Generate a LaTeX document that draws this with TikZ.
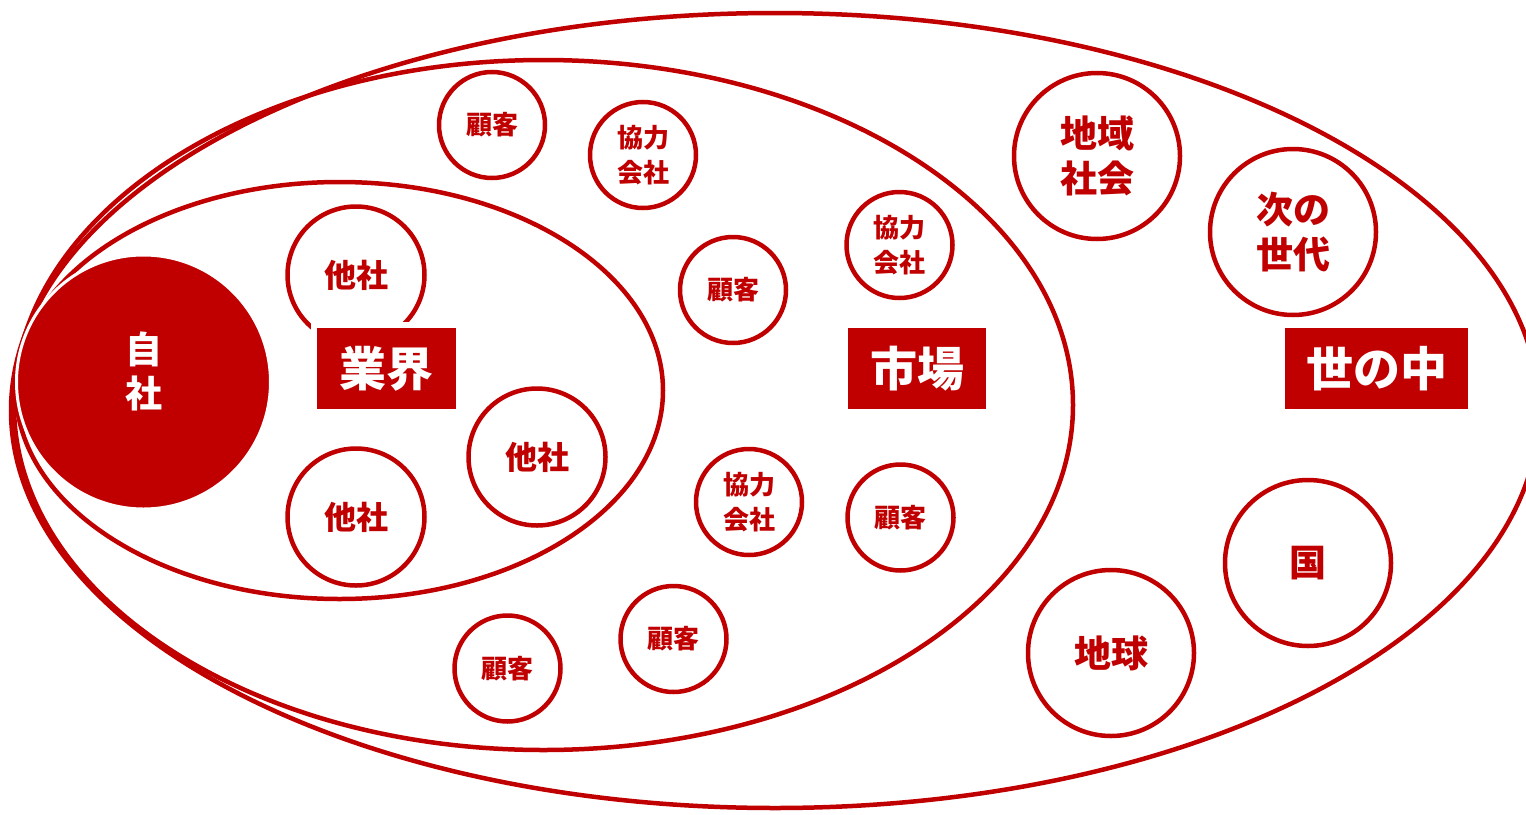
\documentclass[tikz,border=0pt]{standalone}
\usepackage{fontspec}
\setmainfont{Noto Sans CJK JP}
\definecolor{brand}{HTML}{C00000}
\tikzset{
  ring/.style={draw=brand, line width=4.5pt},
  basec/.style={circle, draw=brand, line width=4.5pt, fill=white, inner sep=0pt, text=brand, align=center},
  smallc/.style={basec, minimum size=106pt, font=\bfseries\fontsize{26}{34.5}\selectfont},
  midc/.style={basec, minimum size=137pt, font=\bfseries\fontsize{32}{40}\selectfont},
  bigc/.style={basec, minimum size=166pt, font=\bfseries\fontsize{37}{45}\selectfont},
  selfc/.style={circle, fill=brand, draw=white, line width=3pt, minimum size=254pt, inner sep=0pt},
  selftext/.style={inner sep=0pt, text=white, align=center, font=\bfseries\fontsize{37}{44}\selectfont},
  labelbox/.style={rectangle, fill=brand, draw=white, line width=6pt, minimum height=87pt, inner sep=0pt, text=white, font=\bfseries\fontsize{47}{50}\selectfont}
}
\begin{document}
\begin{tikzpicture}[x=1pt,y=-1pt]
\useasboundingbox (0,0) rectangle (1526,814);
\clip (0,0) rectangle (1526,814);
% nested areas
\draw[ring] (775,410.5) ellipse [x radius=764pt, y radius=397.5pt];
\draw[ring] (543.5,405) ellipse [x radius=529.5pt, y radius=345pt];
\draw[ring] (339.5,390.5) ellipse [x radius=323.5pt, y radius=208.5pt];
% circles
\node[smallc] (k1) at (492,125) {顧客};
\node[smallc] (p1) at (643,155) {協力\\会社};
\node[midc]   (t1) at (356,275) {他社};
\node[smallc] (k2) at (733,290) {顧客};
\node[smallc] (p2) at (899.5,245) {協力\\会社};
\node[bigc]   (chiiki) at (1097,156) {地域\\社会};
\node[bigc]   (jisedai) at (1293,232) {次の\\世代};
\node[midc]   (t2) at (537,457) {他社};
\node[midc]   (t3) at (356,517) {他社};
\node[smallc] (p3) at (749,502) {協力\\会社};
\node[smallc] (k3) at (900.5,517.5) {顧客};
\node[bigc]   (kuni) at (1308,563) {国};
\node[bigc]   (chikyu) at (1111,653) {地球};
\node[smallc] (k4) at (673.5,639) {顧客};
\node[smallc] (k5) at (507.5,668.5) {顧客};
% area labels
\node[labelbox, minimum width=145pt] (gyokai) at (386.5,368.5) {業界};
\node[labelbox, minimum width=144pt] (shijo) at (917,368.5) {市場};
\node[labelbox, minimum width=189pt] (yononaka) at (1376.5,368.5) {世の中};
% own company
\node[selfc] (jisha) at (143.5,382) {};
\node[selftext] (jishatext) at (143.5,371) {自\\社};
\end{tikzpicture}
\end{document}
